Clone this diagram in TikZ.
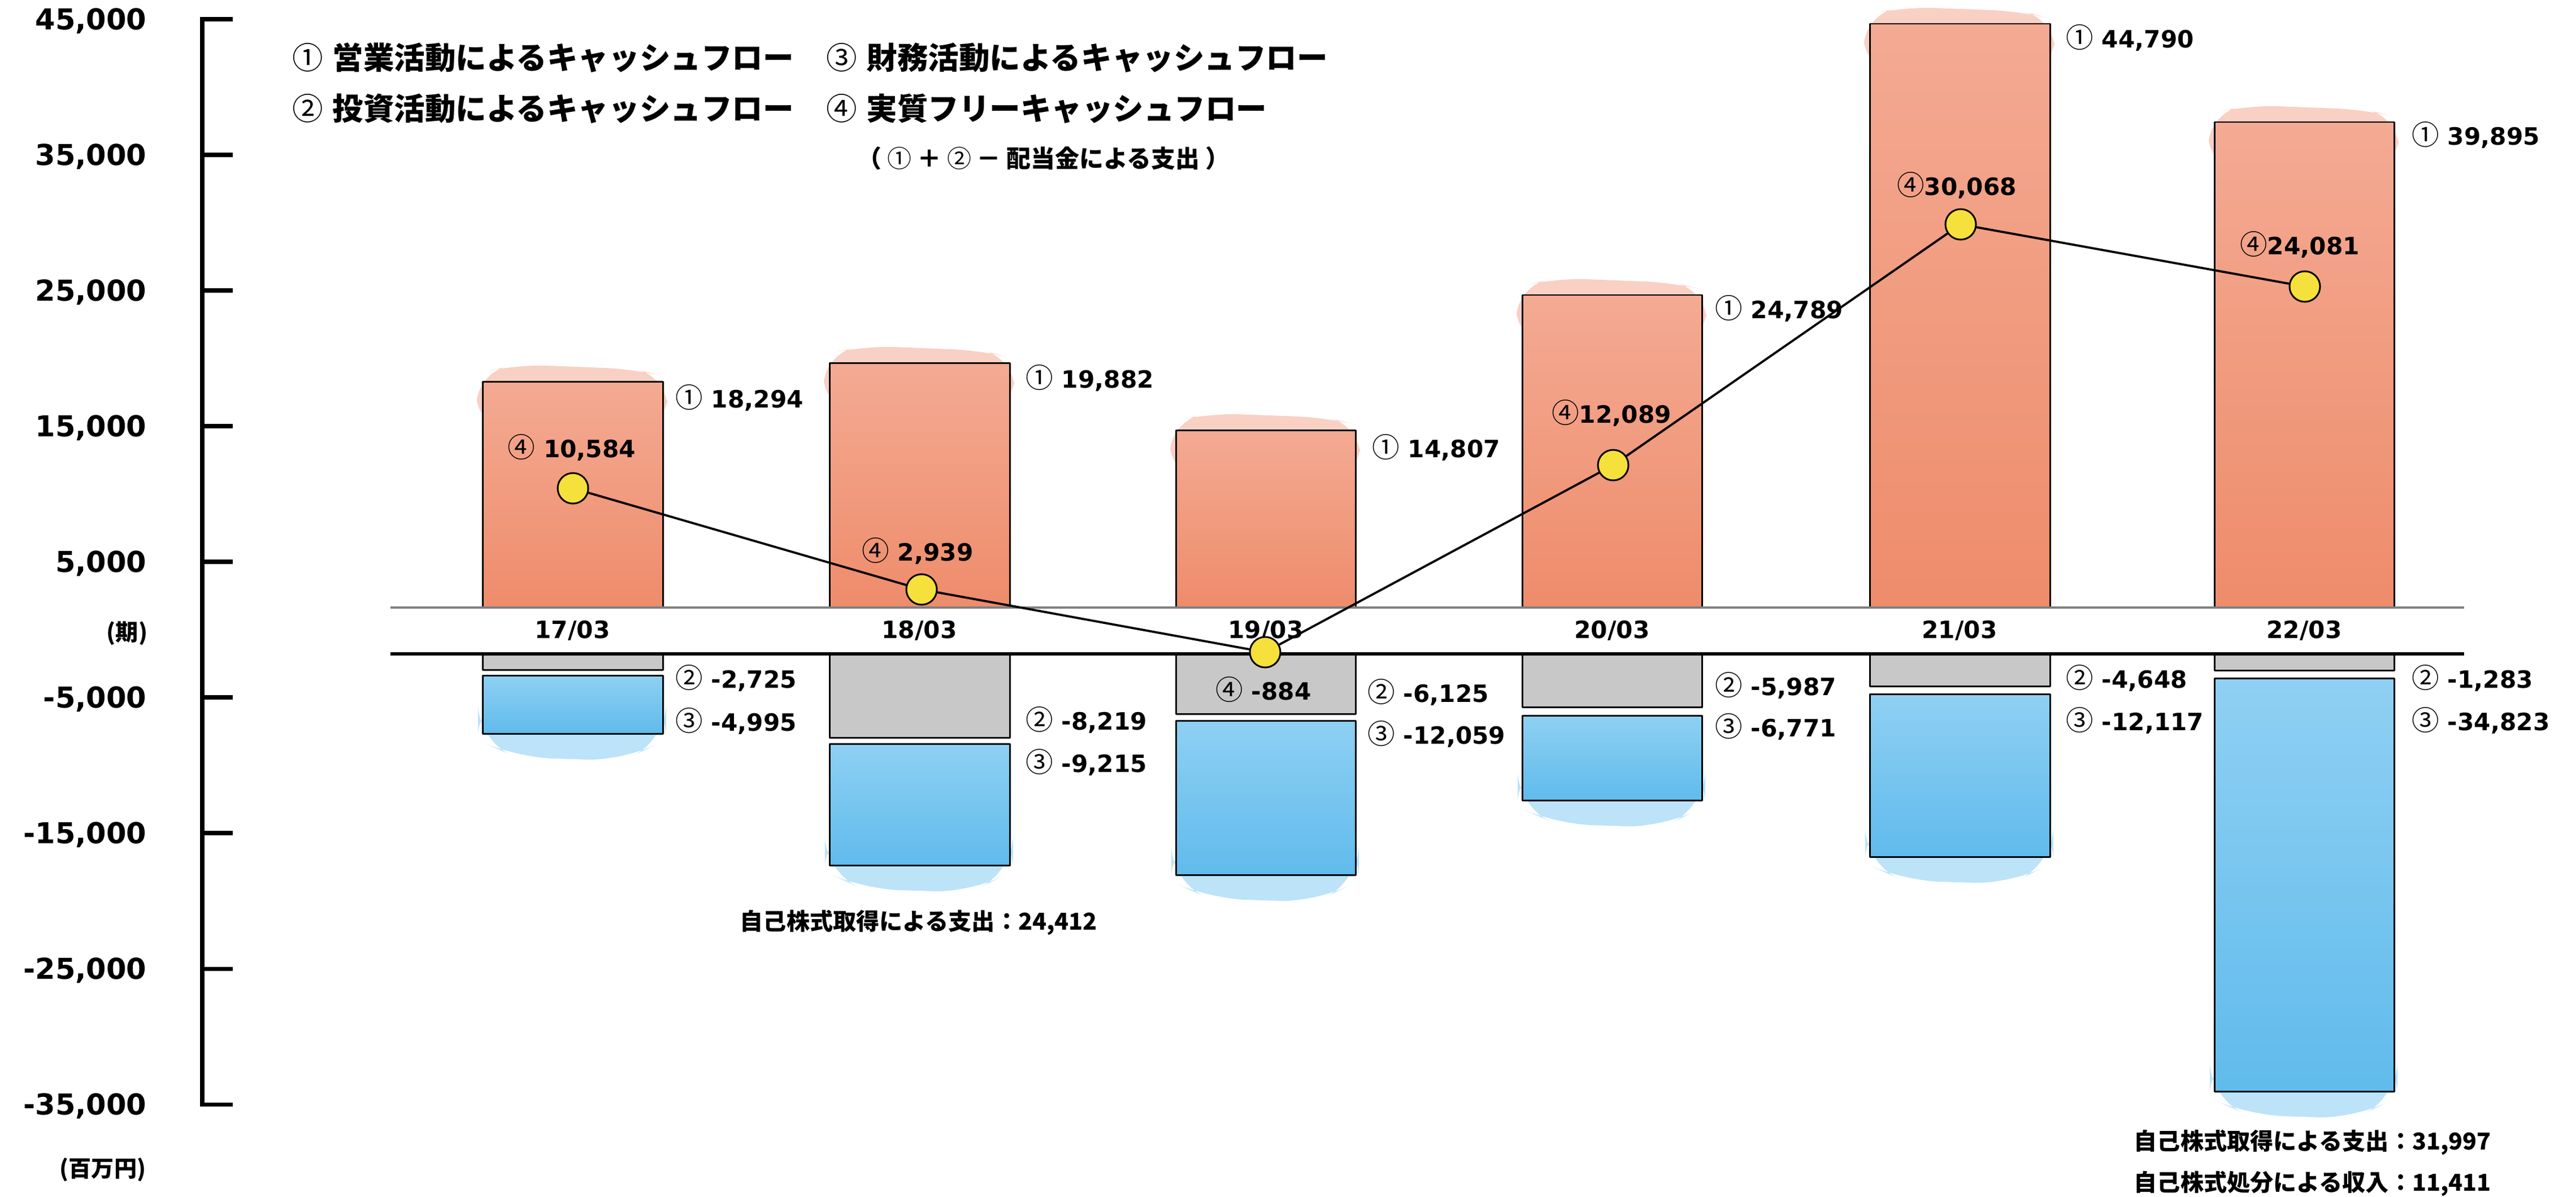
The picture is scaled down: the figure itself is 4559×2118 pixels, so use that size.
\documentclass[tikz,border=0pt]{standalone}
\usepackage{fontspec}
\setmainfont{DejaVu Sans}
\newfontfamily\jpfont{Noto Sans CJK JP}
\usetikzlibrary{positioning}

\definecolor{cfOrange}{HTML}{EE8C6B}
\definecolor{cfOrangeLight}{HTML}{F4AA93}
\definecolor{cfBlue}{HTML}{60BBEC}
\definecolor{cfBlueLight}{HTML}{8FD0F3}
\definecolor{cfGray}{HTML}{C8C8C8}
\definecolor{cfYellow}{HTML}{F6E03C}

\newcommand{\cn}[1]{{\jpfont\mdseries\fontsize{13.8}{14}\selectfont #1}}

\begin{document}
\begin{tikzpicture}[x=0.01cm, y=-0.01cm,
  ticklab/.style={anchor=east, inner sep=0pt, font=\fontsize{14.5}{16}\selectfont\bfseries},
  val/.style={anchor=west, inner sep=0pt, font=\fontsize{12}{14}\selectfont\bfseries},
  fcflab/.style={inner sep=0pt, font=\fontsize{12}{14}\selectfont\bfseries},
  period/.style={inner sep=0pt, font=\fontsize{12}{14}\selectfont\bfseries},
  legend/.style={anchor=west, inner sep=0pt, font=\fontsize{15.5}{18}\selectfont\jpfont\bfseries},
  note/.style={anchor=west, inner sep=0pt, font=\fontsize{11.7}{14}\selectfont\jpfont\bfseries},
  unit/.style={inner sep=0pt, font=\fontsize{11.4}{14}\selectfont\jpfont\bfseries},
  axisline/.style={line width=2pt},
  barline/.style={line width=0.85pt, line join=round},
  orangewash/.style={fill=cfOrangeLight, fill opacity=0.55, rounded corners=15},
  bluewash/.style={fill=cfBlueLight, fill opacity=0.6, rounded corners=18},
  dot/.style={circle, draw, line width=0.85pt, fill=cfYellow, minimum size=0.54cm, inner sep=0pt},
  fcfline/.style={line width=1.1pt}
]
\useasboundingbox (0,0) rectangle (4559,2118);

% axis
\draw[axisline] (412,34) -- (358,34) -- (358,1954) -- (412,1954);
\foreach \lab [count=\i, evaluate=\i as \y using 34+(\i-1)*240] in
  {{45,000},{35,000},{25,000},{15,000},{5,000},{-5,000},{-15,000},{-25,000},{-35,000}}{
  \draw[axisline] (358,\y) -- (412,\y);
  \node[ticklab] (tick\i) at (260,\y+3) {\lab};
}
\node[unit] (ki) at (225,1121) {(期)};
\node[unit] (yen) at (182,2070) {(百万円)};

% bars: left/right/top/gray bottom/blue top/blue bottom
\foreach \xa/\xb/\top/\gb/\bt/\bb in {
  854/1173/675/1185/1195/1298,
  1468/1787/642/1305/1316/1531,
  2081/2399/761/1263/1275/1548,
  2694/3012/522/1251/1266/1416,
  3309/3628/42/1214/1228/1516,
  3919/4237/216/1186/1200/1931}{
  \fill[orangewash] (\xa-10,\top+80) -- (\xa-10,\top-14) -- (\xa+60,\top-30)
    -- (\xb-50,\top-22) -- (\xb+8,\top-8) -- (\xb+8,\top+80) -- cycle;
  \shade[top color=cfOrangeLight, bottom color=cfOrange] (\xa,\top) rectangle (\xb,1075);
  \draw[barline] (\xa,1075) -- (\xa,\top) -- (\xb,\top) -- (\xb,1075);
  \fill[cfGray] (\xa,1157) rectangle (\xb,\gb);
  \draw[barline] (\xa,1157) -- (\xa,\gb) -- (\xb,\gb) -- (\xb,1157);
  \fill[bluewash] (\xa-8,\bb-60) -- (\xa-8,\bb+12) -- (\xa+60,\bb+42)
    -- (\xb-70,\bb+48) -- (\xb+6,\bb+10) -- (\xb+6,\bb-60) -- cycle;
  \shade[top color=cfBlueLight, bottom color=cfBlue] (\xa,\bt) rectangle (\xb,\bb);
  \draw[barline] (\xa,\bt) rectangle (\xb,\bb);
}

% period band
\draw[line width=1.1pt, gray] (691,1075) -- (4361,1075);
\draw[line width=1.7pt] (691,1157) -- (4361,1157);
\node[period] (p17) at (1013,1116) {17/03};
\node[period] (p18) at (1627,1116) {18/03};
\node[period] (p19) at (2240,1116) {19/03};
\node[period] (p20) at (2853,1116) {20/03};
\node[period] (p21) at (3468,1116) {21/03};
\node[period] (p22) at (4078,1116) {22/03};

% free cash flow
\node[dot] (d17) at (1014,864) {};
\node[dot] (d18) at (1631,1043) {};
\node[dot] (d19) at (2239,1154) {};
\node[dot] (d20) at (2855,823) {};
\node[dot] (d21) at (3470,397) {};
\node[dot] (d22) at (4079,507) {};
\draw[fcfline] (d17) -- (d18) -- (d19) -- (d20) -- (d21) -- (d22);

\node[fcflab] (f17) at (1012,792) {\cn{④} 10,584};
\node[fcflab] (f18) at (1624,975) {\cn{④} 2,939};
\node[fcflab] (f19) at (2236,1220) {\cn{④} -884};
\node[fcflab] (f20) at (2852,731) {\cn{④}12,089};
\node[fcflab] (f21) at (3463,328) {\cn{④}30,068};
\node[fcflab] (f22) at (4070,433) {\cn{④}24,081};

% values
\node[val] (o17) at (1195,704) {\cn{①} 18,294};
\node[val] (i17) at (1195,1200) {\cn{②} -2,725};
\node[val] (c17) at (1195,1276) {\cn{③} -4,995};
\node[val] (o18) at (1815,669) {\cn{①} 19,882};
\node[val] (i18) at (1815,1274) {\cn{②} -8,219};
\node[val] (c18) at (1815,1349) {\cn{③} -9,215};
\node[val] (o19) at (2428,792) {\cn{①} 14,807};
\node[val] (i19) at (2420,1225) {\cn{②} -6,125};
\node[val] (c19) at (2420,1299) {\cn{③} -12,059};
\node[val] (o20) at (3035,546) {\cn{①} 24,789};
\node[val] (i20) at (3035,1213) {\cn{②} -5,987};
\node[val] (c20) at (3035,1286) {\cn{③} -6,771};
\node[val] (o21) at (3656,67) {\cn{①} 44,790};
\node[val] (i21) at (3656,1200) {\cn{②} -4,648};
\node[val] (c21) at (3656,1275) {\cn{③} -12,117};
\node[val] (o22) at (4268,239) {\cn{①} 39,895};
\node[val] (i22) at (4268,1200) {\cn{②} -1,283};
\node[val] (c22) at (4268,1275) {\cn{③} -34,823};

\node[note] (n18) at (1309,1632) {自己株式取得による支出：24,412};
\node[note] (n22a) at (3776,2021) {自己株式取得による支出：31,997};
\node[note] (n22b) at (3776,2094) {自己株式処分による収入：11,411};

% legend
\node[legend] (leg1) at (517,102) {{\mdseries ①}\hspace{0.3em}営業活動によるキャッシュフロー};
\node[legend] (leg2) at (517,192) {{\mdseries ②}\hspace{0.3em}投資活動によるキャッシュフロー};
\node[legend] (leg3) at (1462,102) {{\mdseries ③}\hspace{0.3em}財務活動によるキャッシュフロー};
\node[legend] (leg4) at (1462,192) {{\mdseries ④}\hspace{0.3em}実質フリーキャッシュフロー};
\node[inner sep=0pt, font=\fontsize{12.2}{14}\selectfont\jpfont\bfseries] (leg5) at (1847,280)
  {（ {\mdseries ①} ＋ {\mdseries ②} － 配当金による支出 ）};
\end{tikzpicture}
\end{document}
